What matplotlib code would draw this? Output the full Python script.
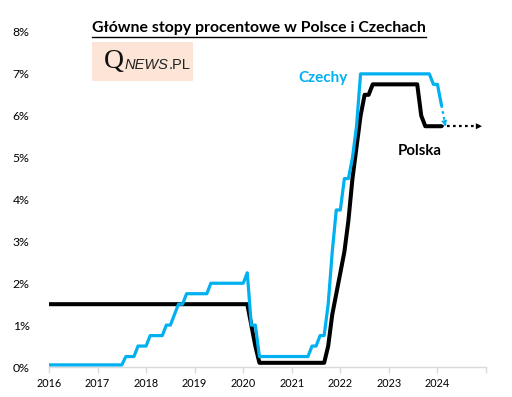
import matplotlib
matplotlib.use("Agg")
import matplotlib.pyplot as plt
from matplotlib.patches import Rectangle
from matplotlib.lines import Line2D

# ---- data (month corner points, values in %) ----
cz_dates = ["2016-01", "2017-07", "2017-08", "2017-10", "2017-11", "2018-01", "2018-02",
            "2018-05", "2018-06", "2018-07", "2018-08", "2018-09", "2018-10", "2018-11",
            "2019-04", "2019-05", "2020-01", "2020-02", "2020-03", "2020-04", "2020-05",
            "2021-05", "2021-06", "2021-07", "2021-08", "2021-09", "2021-10", "2021-11",
            "2021-12", "2022-01", "2022-02", "2022-03", "2022-04", "2022-05", "2022-06",
            "2023-11", "2023-12", "2024-01", "2024-02"]
cz_values = [0.05, 0.05, 0.25, 0.25, 0.5, 0.5, 0.75,
             0.75, 1.0, 1.0, 1.25, 1.5, 1.5, 1.75,
             1.75, 2.0, 2.0, 2.25, 1.0, 1.0, 0.25,
             0.25, 0.5, 0.5, 0.75, 0.75, 1.5, 2.75,
             3.75, 3.75, 4.5, 4.5, 5.0, 5.75, 7.0,
             7.0, 6.75, 6.75, 6.25]
cz_fc_dates = ["2024-02", "2024-03"]
cz_fc_values = [6.25, 5.75]

pl_dates = ["2016-01", "2020-02", "2020-03", "2020-04", "2020-05", "2021-09", "2021-10",
            "2021-11", "2021-12", "2022-01", "2022-02", "2022-03", "2022-04", "2022-05",
            "2022-06", "2022-07", "2022-08", "2022-09", "2023-08", "2023-09", "2023-10",
            "2024-02"]
pl_values = [1.5, 1.5, 1.0, 0.5, 0.1, 0.1, 0.5,
             1.25, 1.75, 2.25, 2.75, 3.5, 4.5, 5.25,
             6.0, 6.5, 6.5, 6.75, 6.75, 6.0, 5.75,
             5.75]
pl_fc_dates = ["2024-02", "2024-12"]
pl_fc_values = [5.75, 5.75]

year_ticks = [2016, 2017, 2018, 2019, 2020, 2021, 2022, 2023, 2024, 2025]
year_labels = ["2016", "2017", "2018", "2019", "2020", "2021", "2022", "2023", "2024", ""]
y_ticks = [0, 1, 2, 3, 4, 5, 6, 7, 8]
y_labels = ["0%", "1%", "2%", "3%", "4%", "5%", "6%", "7%", "8%"]

title = "Główne stopy procentowe w Polsce i Czechach"
label_cz = "Czechy"
label_pl = "Polska"

BLUE = "#00B0F0"
BLACK = "#000000"


def to_year(s):
    y, m = s.split("-")
    return int(y) + (int(m) - 1) / 12.0


plt.rcParams['font.family'] = ['Lato', 'DejaVu Sans']

fig = plt.figure(figsize=(5.12, 3.97), dpi=100)
ax = fig.add_axes([49 / 512, 30 / 397, 437 / 512, 335 / 397])

cx = [to_year(d) for d in cz_dates]
px = [to_year(d) for d in pl_dates]
ax.plot(px, pl_values, color=BLACK, lw=2.9, solid_joinstyle="round", solid_capstyle="round", zorder=3)
ax.plot(cx, cz_values, color=BLUE, lw=2.3, solid_joinstyle="round", solid_capstyle="round", zorder=4)

# forecast dotted arrows
cfx = [to_year(d) for d in cz_fc_dates]
pfx = [to_year(d) for d in pl_fc_dates]
ax.plot(pfx, pl_fc_values, color=BLACK, lw=1.6, ls=(0, (1.2, 1.5)), zorder=3)
ax.annotate("", xy=(pfx[-1], pl_fc_values[-1]),
            xytext=(pfx[-1] - 0.15, pl_fc_values[-1]),
            arrowprops=dict(arrowstyle="-|>", color=BLACK, lw=0, mutation_scale=11, shrinkA=0, shrinkB=0),
            zorder=3)
ax.plot(cfx, cz_fc_values, color=BLUE, lw=1.6, ls=(0, (1.2, 1.5)), zorder=4)
ax.annotate("", xy=(cfx[-1], cz_fc_values[-1]),
            xytext=(cfx[-1] - 0.03, cz_fc_values[-1] + 0.15),
            arrowprops=dict(arrowstyle="-|>", color=BLUE, lw=0, mutation_scale=11, shrinkA=0, shrinkB=0),
            zorder=4)

ax.set_xlim(2016, 2025)
ax.set_ylim(0, 8)
ax.set_xticks(year_ticks)
ax.set_xticklabels(year_labels, fontsize=7.8)
ax.set_yticks(y_ticks)
ax.set_yticklabels(y_labels, fontsize=8.8)
for s in ["top", "right", "left"]:
    ax.spines[s].set_visible(False)
ax.spines["bottom"].set_color("#D9D9D9")
ax.spines["bottom"].set_linewidth(1.0)
ax.tick_params(axis="x", colors="#D9D9D9", labelcolor="black", length=4, width=1.0, pad=4)
ax.tick_params(axis="y", length=0, pad=14, labelcolor="black")

# title with underline
t = fig.text(92 / 512, 1 - 28 / 397, title, fontsize=11.4, fontweight="bold", ha="left", va="center")
fig.canvas.draw()
bb = t.get_window_extent()
fig.add_artist(Line2D([bb.x0 / 512, bb.x1 / 512], [(397 - 37) / 397, (397 - 37) / 397],
                      color="black", lw=1.0, transform=fig.transFigure))

# logo
fig.add_artist(Rectangle((92 / 512, 1 - 81 / 397), 101 / 512, 39 / 397, transform=fig.transFigure,
                         facecolor="#FCE4D6", edgecolor="none"))
fig.text(104 / 512, 1 - 62 / 397, "Q", fontsize=20, family="Liberation Serif", ha="left", va="center",
         color="#111111")
tn = fig.text(125 / 512, 1 - 65 / 397, "NEWS", fontsize=10.5, style="italic", family="Liberation Sans",
              ha="left", va="center", color="#222222")
fig.canvas.draw()
bn = tn.get_window_extent()
fig.text(bn.x1 / 512 - 0.001, 1 - 65 / 397, ".PL", fontsize=10.5, family="Liberation Sans",
         ha="left", va="center", color="#222222")

# series labels
fig.text(298 / 512, 1 - 78 / 397, label_cz, fontsize=11, fontweight="bold", color=BLUE, ha="left", va="center")
fig.text(398 / 512, 1 - 151 / 397, label_pl, fontsize=10.8, fontweight="bold", color=BLACK, ha="left",
         va="center")

fig.savefig("out.png", dpi=100)
